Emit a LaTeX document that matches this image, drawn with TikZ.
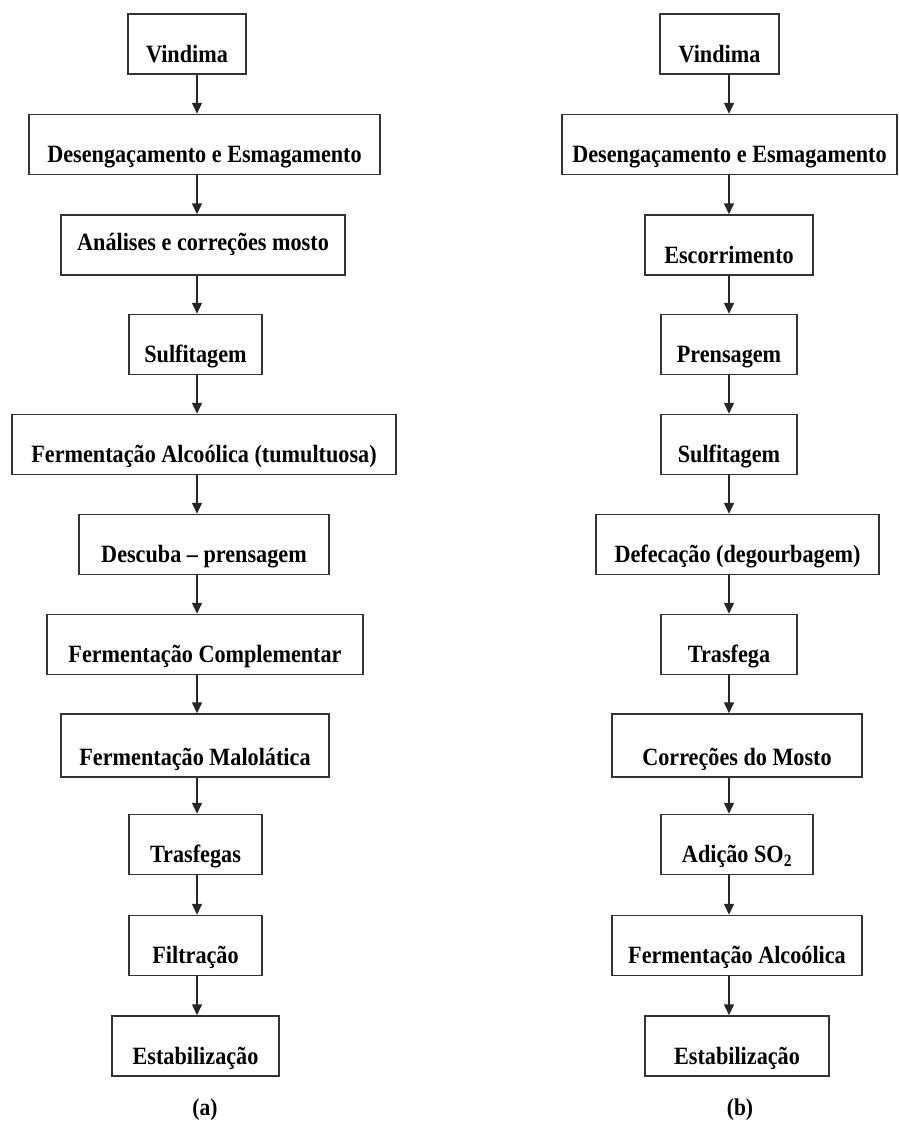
\documentclass[tikz,border=0pt]{standalone}
\usepackage{fontspec}
\setmainfont{Liberation Serif}
\usepackage{graphicx}
\usepackage{tikz}
\usetikzlibrary{positioning, arrows.meta, calc}

% texto um pouco mais alto, como no original
\newcommand{\etq}[1]{\scalebox{1}[1.12]{#1}}

\tikzset{
  etapa/.style={draw=black!80, line width=1.5pt, inner sep=0pt, align=center,
    text height=48pt, text depth=12pt,
    font=\fontsize{22.2}{26}\selectfont\bfseries},
  seta/.style={draw=black!85, line width=1.5pt, -{Triangle[width=10pt,length=11pt]}},
  legenda/.style={font=\fontsize{21.5}{24}\selectfont\bfseries}
}

\begin{document}
\begin{tikzpicture}[x=1pt, y=-1pt]
\useasboundingbox (0,0) rectangle (899,1122);

% colunas das setas
\coordinate (colA) at (197,0);
\coordinate (colB) at (729,0);

% (a)
\node[etapa, minimum width=118pt] (a1) at (187,44) {\etq{Vindima}};
\node[etapa, minimum width=351pt] (a2) at (204.5,144.5) {\etq{Desengaçamento e Esmagamento}};
\node[etapa, minimum width=284pt, text height=35pt, text depth=25pt] (a3) at (203,245) {\etq{Análises e correções mosto}};
\node[etapa, minimum width=133pt] (a4) at (195.5,344.5) {\etq{Sulfitagem}};
\node[etapa, minimum width=384pt] (a5) at (204,444.5) {\etq{Fermentação Alcoólica (tumultuosa)}};
\node[etapa, minimum width=250pt] (a6) at (204,544.5) {\etq{Descuba -- prensagem}};
\node[etapa, minimum width=316pt] (a7) at (205,644.5) {\etq{Fermentação Complementar}};
\node[etapa, minimum width=268pt, text height=51pt] (a8) at (195,745.5) {\etq{Fermentação Malolática}};
\node[etapa, minimum width=133pt] (a9) at (195.5,844.5) {\etq{Trasfegas}};
\node[etapa, minimum width=133pt] (a10) at (195.5,945.5) {\etq{Filtração}};
\node[etapa, minimum width=167pt] (a11) at (195.5,1046) {\etq{Estabilização}};

\draw[seta] (a1.south -| colA) -- (a2.north -| colA);
\draw[seta] (a2.south -| colA) -- (a3.north -| colA);
\draw[seta] (a3.south -| colA) -- (a4.north -| colA);
\draw[seta] (a4.south -| colA) -- (a5.north -| colA);
\draw[seta] (a5.south -| colA) -- (a6.north -| colA);
\draw[seta] (a6.south -| colA) -- (a7.north -| colA);
\draw[seta] (a7.south -| colA) -- (a8.north -| colA);
\draw[seta] (a8.south -| colA) -- (a9.north -| colA);
\draw[seta] (a9.south -| colA) -- (a10.north -| colA);
\draw[seta] (a10.south -| colA) -- (a11.north -| colA);

\node[legenda] (la) at (205,1110) {\etq{(a)}};

% (b)
\node[etapa, minimum width=119pt] (b1) at (719.5,44) {\etq{Vindima}};
\node[etapa, minimum width=335pt] (b2) at (729.5,144.5) {\etq{Desengaçamento e Esmagamento}};
\node[etapa, minimum width=168pt] (b3) at (729,245) {\etq{Escorrimento}};
\node[etapa, minimum width=136pt] (b4) at (729,344.5) {\etq{Prensagem}};
\node[etapa, minimum width=136pt] (b5) at (729,444.5) {\etq{Sulfitagem}};
\node[etapa, minimum width=283pt] (b6) at (737.5,544.5) {\etq{Defecação (degourbagem)}};
\node[etapa, minimum width=136pt] (b7) at (729,644.5) {\etq{Trasfega}};
\node[etapa, minimum width=250pt, text height=51pt] (b8) at (737,745.5) {\etq{Correções do Mosto}};
\node[etapa, minimum width=152pt] (b9) at (737,844.5) {\etq{Adição SO\textsubscript{2}}};
\node[etapa, minimum width=250pt] (b10) at (737,945.5) {\etq{Fermentação Alcoólica}};
\node[etapa, minimum width=184pt] (b11) at (737,1046) {\etq{Estabilização}};

\draw[seta] (b1.south -| colB) -- (b2.north -| colB);
\draw[seta] (b2.south -| colB) -- (b3.north -| colB);
\draw[seta] (b3.south -| colB) -- (b4.north -| colB);
\draw[seta] (b4.south -| colB) -- (b5.north -| colB);
\draw[seta] (b5.south -| colB) -- (b6.north -| colB);
\draw[seta] (b6.south -| colB) -- (b7.north -| colB);
\draw[seta] (b7.south -| colB) -- (b8.north -| colB);
\draw[seta] (b8.south -| colB) -- (b9.north -| colB);
\draw[seta] (b9.south -| colB) -- (b10.north -| colB);
\draw[seta] (b10.south -| colB) -- (b11.north -| colB);

\node[legenda] (lb) at (740,1110) {\etq{(b)}};
\end{tikzpicture}
\end{document}
